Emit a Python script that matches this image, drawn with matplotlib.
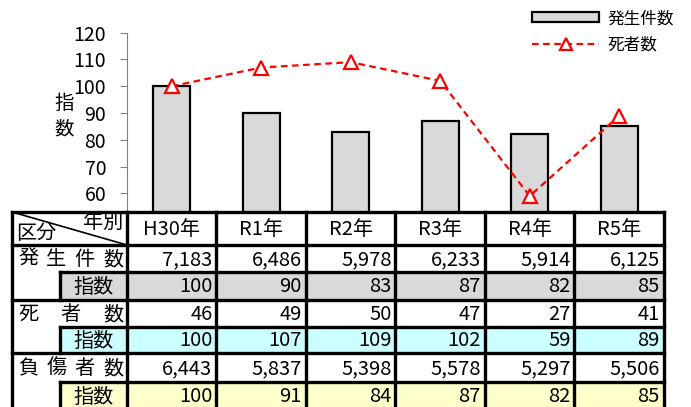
import matplotlib
matplotlib.use('Agg')
import matplotlib.pyplot as plt
from matplotlib.patches import Rectangle
from matplotlib.lines import Line2D
import numpy as np

plt.rcParams['font.family'] = ['Noto Sans CJK JP', 'DejaVu Sans']

years = ['H30年', 'R1年', 'R2年', 'R3年', 'R4年', 'R5年']
accidents = [7183, 6486, 5978, 6233, 5914, 6125]
accident_idx = [100, 90, 83, 87, 82, 85]
deaths = [46, 49, 50, 47, 27, 41]
death_idx = [100, 107, 109, 102, 59, 89]
injured = [6443, 5837, 5398, 5578, 5297, 5506]
injured_idx = [100, 91, 84, 87, 82, 85]

W, H = 691, 407
fig = plt.figure(figsize=(W / 100, H / 100), dpi=100)

# chart area (pixel layout of the reference)
x0, x1 = 127, 664
y_top, y_bot = 32.7, 220.1
ax = fig.add_axes([x0 / W, 1 - y_bot / H, (x1 - x0) / W, (y_bot - y_top) / H])
x = np.arange(len(years))
ax.bar(x, accident_idx, width=0.41, color='#d9d9d9', edgecolor='black',
       linewidth=1.6, zorder=2)
ax.plot(x, death_idx, color='red', linestyle=(0, (3, 2)), linewidth=1.6,
        marker='^', markersize=10, markerfacecolor='white',
        markeredgecolor='red', markeredgewidth=1.6, zorder=3)
ax.set_xlim(-0.5, len(years) - 0.5)
ax.set_ylim(50, 120)
ax.set_yticks(range(60, 121, 10))
ax.set_xticks([])
for s in ['top', 'right', 'bottom']:
    ax.spines[s].set_visible(False)
ax.spines['left'].set_color('#808080')
ax.tick_params(axis='y', length=5, pad=10, color='#808080', labelsize=14)
ax.text((64 - x0) / (x1 - x0), 1 - (116 - y_top) / (y_bot - y_top), '指\n数',
        transform=ax.transAxes, fontsize=14, ha='center', va='center',
        linespacing=1.25)

# legend
handles = [Rectangle((0, 0), 1, 1, facecolor='#d9d9d9', edgecolor='black', linewidth=1.6),
           Line2D([], [], color='red', linestyle=(0, (3, 2)), linewidth=1.6,
                  marker='^', markersize=9, markerfacecolor='white',
                  markeredgecolor='red', markeredgewidth=1.6)]
fig.legend(handles, ['発生件数', '死者数'], loc='upper left',
           bbox_to_anchor=(519 / W, 1 + 3 / H), frameon=False, fontsize=12,
           handlelength=4.0, handleheight=0.55, handletextpad=0.5,
           labelspacing=0.55, borderpad=0.3)

# table drawn over the bottom of the chart
tab = fig.add_axes([0, 0, 1, 1], zorder=5)
tab.set_xlim(0, W)
tab.set_ylim(H, 0)
tab.axis('off')

cols = np.linspace(127, 664, len(years) + 1)
left, sub_left = 12, 60
rows = [212, 245, 272, 300, 327, 353, 382, 410]
lw = 2.4
fs = 14.5

tab.add_patch(Rectangle((left, rows[0]), cols[-1] - left, rows[-1] - rows[0],
                        facecolor='white', edgecolor='none'))

# header
for i, yr in enumerate(years):
    tab.text((cols[i] + cols[i + 1]) / 2, (rows[0] + rows[1]) / 2 + 1, yr,
             ha='center', va='center', fontsize=fs)
tab.plot([left, cols[0]], [rows[0], rows[1]], color='black', lw=1.2)
tab.text(left + 4, rows[1] - 1, '区分', ha='left', va='bottom', fontsize=fs)
tab.text(cols[0] - 4, rows[0] + 1, '年別', ha='right', va='top', fontsize=fs)

groups = [('発生件数', accidents, accident_idx, '#d9d9d9'),
          ('死者数', deaths, death_idx, '#ccffff'),
          ('負傷者数', injured, injured_idx, '#ffffcc')]
for g, (label, vals, idx, color) in enumerate(groups):
    ra, rb, rc = rows[1 + 2 * g], rows[2 + 2 * g], rows[3 + 2 * g]
    # index row background
    tab.add_patch(Rectangle((sub_left, rb), cols[-1] - sub_left, rc - rb,
                            facecolor=color, edgecolor='none'))
    # spaced label characters
    chars = list(label)
    cx = np.linspace(28, 113, len(chars))
    for c, xx in zip(chars, cx):
        tab.text(xx, (ra + rb) / 2 + 1, c, ha='center', va='center', fontsize=fs)
    tab.text((sub_left + cols[0]) / 2, (rb + rc) / 2 + 1, '指数',
             ha='center', va='center', fontsize=fs)
    for i in range(len(years)):
        tab.text(cols[i + 1] - 4, (ra + rb) / 2 + 1, f'{vals[i]:,}',
                 ha='right', va='center', fontsize=fs)
        tab.text(cols[i + 1] - 4, (rb + rc) / 2 + 1, f'{idx[i]:,}',
                 ha='right', va='center', fontsize=fs)
    # lines
    tab.plot([sub_left, cols[-1]], [rb, rb], color='black', lw=lw)
    tab.plot([sub_left, sub_left], [rb, rc], color='black', lw=lw)

for r in [rows[0], rows[1], rows[3], rows[5], rows[7]]:
    tab.plot([left, cols[-1]], [r, r], color='black', lw=lw)
tab.plot([left, left], [rows[0], rows[-1]], color='black', lw=lw)
for c in cols:
    tab.plot([c, c], [rows[0], rows[-1]], color='black', lw=lw)

fig.savefig('out.png', dpi=100)
